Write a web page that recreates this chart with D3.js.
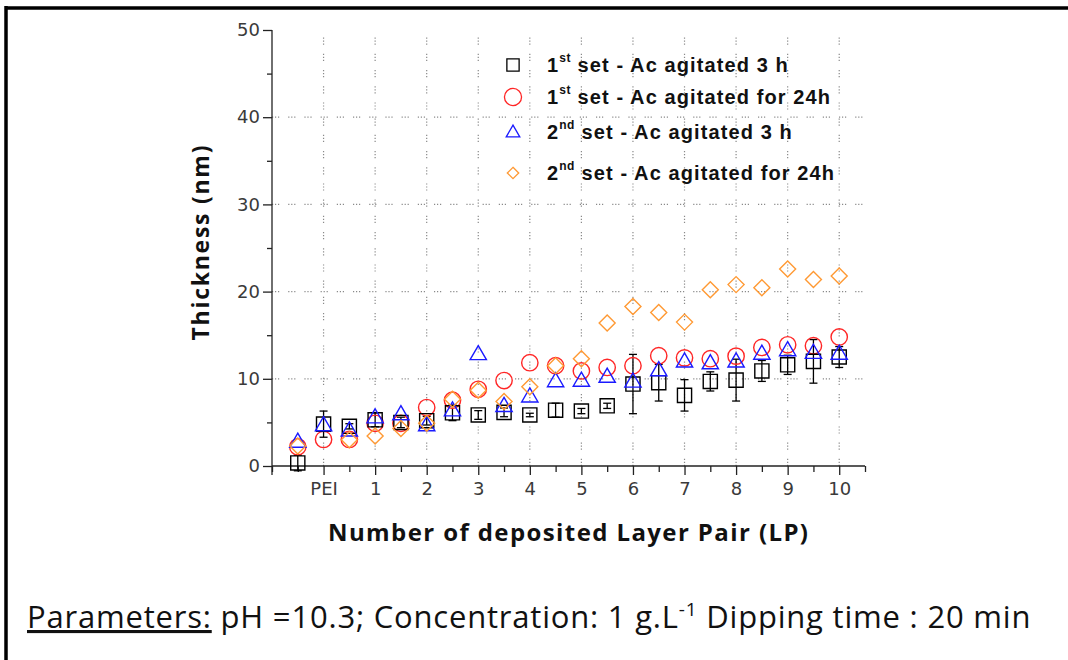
<!DOCTYPE html>
<html>
<head>
<meta charset="utf-8">
<script src="https://cdn.jsdelivr.net/npm/d3@7"></script>
<style>
  body { margin: 0; background: #fff; }
  svg { display: block; }
</style>
</head>
<body>
<svg id="chart" width="1068" height="660"></svg>
<script>
// layer pair positions (half steps, -0.5 = bare substrate, 0 = PEI)
const lp = [-0.5, 0, 0.5, 1, 1.5, 2, 2.5, 3, 3.5, 4, 4.5, 5, 5.5, 6, 6.5, 7, 7.5, 8, 8.5, 9, 9.5, 10];
const xTicks = [0, 1, 2, 3, 4, 5, 6, 7, 8, 9, 10];
const xTickLabels = ['PEI', '1', '2', '3', '4', '5', '6', '7', '8', '9', '10'];
const yTicks = [0, 10, 20, 30, 40, 50];

const set1_3h = [0.35, 4.8, 4.55, 5.3, 5.0, 5.2, 6.1, 5.85, 6.15, 5.85, 6.4, 6.3, 6.9, 9.4, 9.55, 8.1, 9.7, 9.85, 10.9, 11.6, 12.0, 12.5];
const set1_3hErr = [0.9, 1.5, 0.3, 0.8, 0.6, 0.5, 0.9, 0.5, 0.5, 0.2, 0.8, 0.3, 0.3, 3.4, 2.1, 1.8, 1.1, 2.4, 1.2, 1.1, 2.5, 1.2];
const set1_24h = [2.2, 3.05, 3.05, 4.9, 4.9, 6.7, 7.55, 8.8, 9.8, 11.85, 11.5, 10.9, 11.3, 11.5, 12.65, 12.4, 12.3, 12.6, 13.6, 13.9, 13.8, 14.8];
const set2_3h = [2.8, 4.7, 4.1, 5.6, 5.95, 4.7, 6.4, 12.85, 6.9, 8.0, 9.75, 9.8, 10.25, 9.7, 11.0, 12.0, 11.8, 12.0, 12.9, 13.3, 13.0, 12.9];
const set2_24h = [2.3, null, 3.0, 3.45, 4.3, 4.9, 7.65, 8.7, 7.4, 9.1, 11.5, 12.3, 16.4, 18.3, 17.6, 16.5, 20.2, 20.8, 20.45, 22.6, 21.4, 21.8];

const legendItems = [
  { n: '1', sup: 'st', rest: ' set - Ac agitated 3 h', shape: 'square', color: '#000000' },
  { n: '1', sup: 'st', rest: ' set - Ac agitated for 24h', shape: 'circle', color: '#ff2626' },
  { n: '2', sup: 'nd', rest: ' set - Ac agitated 3 h', shape: 'triangle', color: '#1a1aff' },
  { n: '2', sup: 'nd', rest: ' set - Ac agitated for 24h', shape: 'diamond', color: '#ff9933' }
];

const svg = d3.select('#chart');

// frame (only top and left edges are in view)
svg.append('line').attr('x1', 6).attr('y1', 8).attr('x2', 1068).attr('y2', 8)
  .attr('stroke', '#000').attr('stroke-width', 3.5);
svg.append('line').attr('x1', 6).attr('y1', 6).attr('x2', 6).attr('y2', 660)
  .attr('stroke', '#000').attr('stroke-width', 3.5);

const x = d3.scaleLinear().domain([-1, 10.5]).range([272, 865]);
const y = d3.scaleLinear().domain([0, 50]).range([466, 30]);

// grid
const grid = svg.append('g').attr('stroke', '#8a8a8a').attr('stroke-width', 1.2)
  .attr('stroke-dasharray', '1.2,1.8,1.2,1.8,1.2,9');
grid.selectAll('.gx').data(xTicks).enter().append('line')
  .attr('x1', d => x(d)).attr('x2', d => x(d))
  .attr('y1', y(0)).attr('y2', y(50));
grid.selectAll('.gy').data(yTicks.filter(d => d > 0 && d < 50)).enter().append('line')
  .attr('y1', d => y(d)).attr('y2', d => y(d))
  .attr('x1', x(-1)).attr('x2', x(10.5));

// axes
const tickFont = '"DejaVu Sans", sans-serif';
const yAxis = svg.append('g').attr('transform', `translate(${x(-1)},0)`)
  .call(d3.axisLeft(y).tickValues(d3.range(0, 51, 5)).tickSize(5)
    .tickFormat(d => d % 10 === 0 ? d : ''));
yAxis.selectAll('.tick line').attr('x2', d => d % 10 === 0 ? -9 : -5);
const xAxis = svg.append('g').attr('transform', `translate(0,${y(0)})`)
  .call(d3.axisBottom(x).tickValues(d3.range(-1, 10.51, 0.5)).tickSize(6)
    .tickFormat(d => xTicks.includes(d) ? xTickLabels[xTicks.indexOf(d)] : ''));
xAxis.selectAll('.tick line').attr('y2', d => xTicks.includes(d) ? 9 : 6);
[xAxis, yAxis].forEach(a => {
  a.select('.domain').attr('stroke', '#222').attr('stroke-width', 1.3);
  a.selectAll('.tick line').attr('stroke', '#222').attr('stroke-width', 1.3);
  a.selectAll('.tick text').attr('fill', '#3a3a3a').style('font-family', tickFont).style('font-size', '18px');
});
yAxis.select('.domain').attr('d', `M0,${y(50)}H0V${y(0) + 9}`);
xAxis.select('.domain').attr('d', `M${x(-1)},0H${x(10.5)}`);
xAxis.selectAll('.tick text').attr('y', 16).attr('dy', '0.71em');
yAxis.selectAll('.tick text').attr('x', -12);

// axis titles
svg.append('text').attr('transform', `translate(209,243) rotate(-90)`)
  .attr('text-anchor', 'middle').style('font-family', '"Open Sans", sans-serif')
  .style('font-weight', 'bold').style('font-size', '23px').attr('fill', '#111')
  .attr('textLength', 195).attr('lengthAdjust', 'spacing')
  .text('Thickness (nm)');
svg.append('text').attr('x', 568).attr('y', 541)
  .attr('text-anchor', 'middle').style('font-family', '"Open Sans", sans-serif')
  .style('font-weight', 'bold').style('font-size', '24px').attr('fill', '#111')
  .attr('textLength', 480).attr('lengthAdjust', 'spacing')
  .text('Number of deposited Layer Pair (LP)');

// markers
function sym(shape, size) {
  if (shape === 'diamond') {
    const r = Math.sqrt(size) / 2;
    return `M0,${-r}L${r},0L0,${r}L${-r},0Z`;
  }
  const t = { square: d3.symbolSquare, circle: d3.symbolCircle, triangle: d3.symbolTriangle }[shape];
  return d3.symbol().type(t).size(size)();
}
function pts(vals) {
  return lp.map((p, i) => ({ p, v: vals[i], i })).filter(d => d.v != null);
}

// error bars for the first set, 3 h
const eb = svg.append('g').attr('stroke', '#000').attr('stroke-width', 1.3);
pts(set1_3h).forEach(d => {
  const e = set1_3hErr[d.i], cx = x(d.p);
  eb.append('line').attr('x1', cx).attr('x2', cx).attr('y1', y(d.v - e)).attr('y2', y(d.v + e));
  [d.v - e, d.v + e].forEach(v => eb.append('line')
    .attr('x1', cx - 4).attr('x2', cx + 4).attr('y1', y(v)).attr('y2', y(v)));
});

function series(vals, shape, color, size, yoff) {
  svg.append('g').selectAll('path').data(pts(vals)).enter().append('path')
    .attr('d', sym(shape, size))
    .attr('transform', d => `translate(${x(d.p)},${y(d.v) + (yoff || 0)})`)
    .attr('fill', 'none').attr('stroke', color).attr('stroke-width', 1.4);
}
series(set1_24h, 'circle', legendItems[1].color, 210);
series(set1_3h, 'square', legendItems[0].color, 200);
series(set2_3h, 'triangle', legendItems[2].color, 115, 1);
series(set2_24h, 'diamond', legendItems[3].color, 256);

// legend
const legY = [65, 97, 132, 173];
const legSize = { square: 150, circle: 230, triangle: 80, diamond: 130 };
const leg = svg.append('g');
legendItems.forEach((it, i) => {
  leg.append('path').attr('d', sym(it.shape, legSize[it.shape]))
    .attr('transform', `translate(513,${legY[i] + (it.shape === 'triangle' ? 1 : 0)})`)
    .attr('fill', 'none').attr('stroke', it.color).attr('stroke-width', 1.3);
  const t = leg.append('text').attr('x', 547).attr('y', legY[i] + 7)
    .style('font-family', '"Liberation Sans", Arial, sans-serif')
    .style('font-weight', 'bold').style('font-size', '20px')
    .style('letter-spacing', '1.1px').attr('fill', '#111');
  t.append('tspan').text(it.n);
  t.append('tspan').attr('dy', -10).style('font-size', '12px').style('letter-spacing', '0.5px').text(it.sup);
  t.append('tspan').attr('dy', 10).text(it.rest);
});

// parameters line
const cap = svg.append('text').attr('x', 27).attr('y', 628)
  .style('font-family', '"Open Sans", sans-serif').style('font-size', '31px')
  .style('letter-spacing', '0.8px').attr('fill', '#111');
cap.append('tspan').style('text-decoration', 'underline').text('Parameters:');
cap.append('tspan').text(' pH =10.3; Concentration: 1 g.L');
cap.append('tspan').attr('dy', -12).style('font-size', '19px').text('-1');
cap.append('tspan').attr('dy', 12).text(' Dipping time : 20 min');
</script>
</body>
</html>
